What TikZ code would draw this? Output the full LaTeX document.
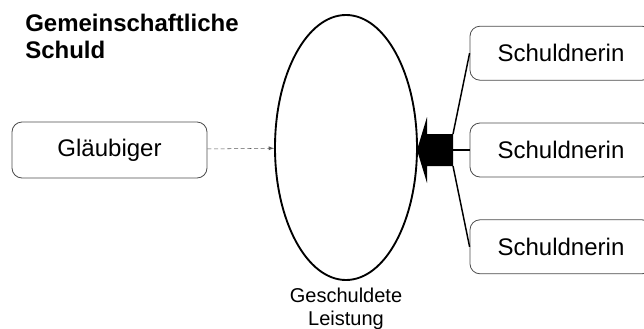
\documentclass[tikz,border=0pt]{standalone}
\usepackage{fontspec}
\setmainfont{Liberation Sans}
\usetikzlibrary{shapes,arrows,positioning}

\begin{document}
\begin{tikzpicture}[x=0.75pt,y=-0.75pt,
    partei/.style={draw=black!70,line width=0.6pt,rounded corners=7.5pt,
        minimum width=136.5pt,minimum height=40.5pt,
        font=\fontsize{18}{20}\selectfont}]
\clip (0,0) rectangle (644,329);
\node[anchor=north west,align=left,inner sep=0pt,
    font=\bfseries\fontsize{18}{20.25}\selectfont] (titel) at (25,14)
    {Gemeinschaftliche\\Schuld};

\node[partei,minimum width=146.25pt,minimum height=42pt] (glaeubiger) at (109.5,150) {Gläubiger};
\node[draw,ellipse,line width=1.4pt,inner sep=0pt,
    minimum width=106.5pt,minimum height=198.75pt] (leistung) at (346,147.5) {};
\node[below=5pt of leistung,align=center,inner sep=0pt,
    font=\fontsize{15}{17.25}\selectfont] (leistungtext) {Geschuldete\\Leistung};

\node[partei] (schuldnerin2) at (561,150) {Schuldnerin};
\node[partei,above=31.5pt of schuldnerin2] (schuldnerin1) {Schuldnerin};
\node[partei,below=31.5pt of schuldnerin2] (schuldnerin3) {Schuldnerin};

% Pfeil zur Leistung
\coordinate (pfeiloben) at (453,134);
\coordinate (pfeilmitte) at (453,150);
\coordinate (pfeilunten) at (453,166);
\fill (pfeiloben) -- (427,134) -- (427,117) -- (417,150)
    -- (427,183) -- (427,166) -- (pfeilunten) -- cycle;

\draw[line width=1.1pt] (pfeiloben) -- (schuldnerin1.west);
\draw[line width=1.1pt] (pfeilmitte) -- (schuldnerin2.west);
\draw[line width=1.1pt] (pfeilunten) -- (schuldnerin3.west);

\draw[densely dashed,black!65,-latex] (glaeubiger) -- (leistung);
\end{tikzpicture}
\end{document}
